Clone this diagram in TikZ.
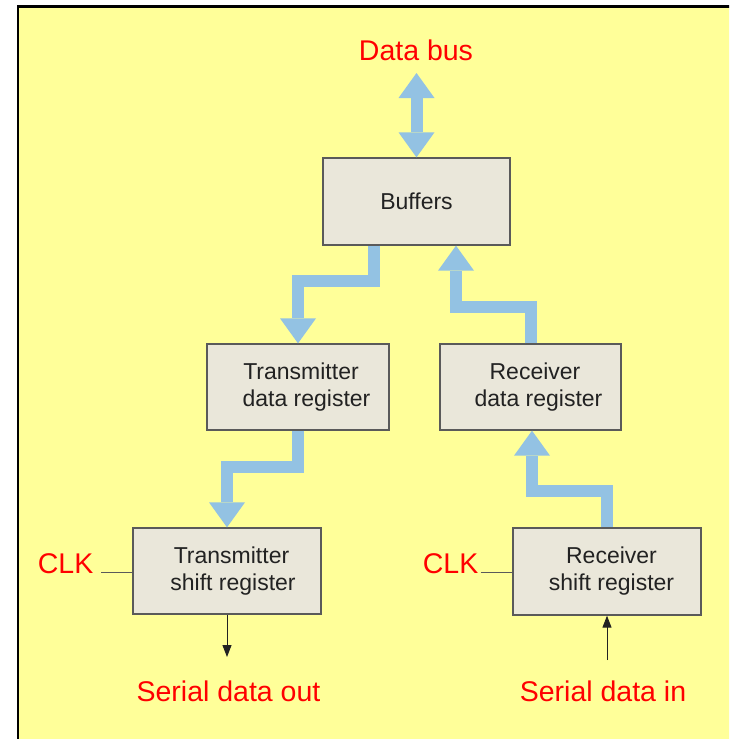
\documentclass[tikz,border=0pt]{standalone}
\usepackage{fontspec}
\setmainfont{Liberation Sans}
\usetikzlibrary{arrows.meta,calc}
\definecolor{panel}{HTML}{FFFF99}
\definecolor{boxfill}{HTML}{EAE7DA}
\definecolor{boxline}{HTML}{5A5A5A}
\definecolor{busblue}{HTML}{93C2E3}
\definecolor{txt}{HTML}{222222}
\definecolor{lblred}{HTML}{FF0000}
\newcommand{\ind}[1]{\hspace*{#1pt}}
\begin{document}
\begin{tikzpicture}[x=1pt,y=-1pt,
  reg/.style={draw=boxline, line width=1.3pt, fill=boxfill, text=txt,
    align=center, font=\fontsize{23}{27}\selectfont, inner sep=0pt},
  lbl/.style={text=lblred, font=\fontsize{28.5}{30}\selectfont, inner sep=0pt},
  busline/.style={draw=busblue, line width=12pt, line join=miter},
  bushead/.tip={Triangle[width=36pt,length=25pt,line width=0pt]},
  busarrow/.style={busline, -bushead},
  wire/.style={draw=boxline, line width=1pt},
  sig/.style={draw=txt, line width=1pt, -{Triangle[width=9pt,length=12pt]}}]
\useasboundingbox (0,0) rectangle (729,739);
\clip (0,0) rectangle (729,739);

% background panel
\fill[white] (0,0) rectangle (729,739);
\fill[panel] (18,6.5) rectangle (745,755);
\draw[line width=2.2pt, black, line join=miter] (18,755) -- (18,6.5) -- (745,6.5);

% registers
\node[reg, minimum width=187pt, minimum height=87pt] (buf) at (416.5,201.5) {Buffers};
\node[reg, minimum width=182pt, minimum height=86pt] (tdr) at (298,387) {\ind{6}Transmitter\\\ind{17}data register};
\node[reg, minimum width=181pt, minimum height=86pt] (rdr) at (530.5,387) {\ind{9}Receiver\\\ind{16}data register};
\node[reg, minimum width=188pt, minimum height=86pt] (tsr) at (227,571) {\ind{9}Transmitter\\\ind{12}shift register};
\node[reg, minimum width=188pt, minimum height=87pt] (rsr) at (607,571.5) {\ind{9}Receiver\\\ind{9}shift register};

% data bus
\node[lbl, anchor=base] (bus) at (416,60) {Data bus};
\coordinate (bustop) at (416.5,73);
\draw[busline, bushead-bushead] (bustop) -- (buf.north);

% parallel data paths
\draw[busarrow] ([xshift=-43pt]buf.south) -- ++(0,35.5) -| (tdr.north);
\draw[busarrow] (rdr.north) -- ++(0,-36) -| ([xshift=39.5pt]buf.south);
\draw[busarrow] (tdr.south) -- ++(0,36.5) -| (tsr.north);
\draw[busarrow] (rsr.north) -- ++(0,-36) -| ([xshift=1.5pt]rdr.south);

% clock inputs
\node[lbl, anchor=base east] (clkl) at (93.5,573) {CLK};
\draw[wire] ([xshift=7.5pt,yshift=1pt]clkl.base east) -- ([yshift=1pt]clkl.base east -| tsr.west);
\node[lbl, anchor=base east] (clkr) at (478.5,573) {CLK};
\draw[wire] ([xshift=2pt,yshift=1pt]clkr.base east) -- ([yshift=1pt]clkr.base east -| rsr.west);

% serial lines
\coordinate (sdotip) at (227,657);
\draw[sig] (tsr.south) -- (sdotip);
\node[lbl, anchor=base] (sdo) at (228.5,701) {Serial data out};
\coordinate (sditail) at (607,660);
\draw[sig] (sditail) -- (rsr.south);
\node[lbl, anchor=base] (sdi) at (603,701) {Serial data in};
\end{tikzpicture}
\end{document}
